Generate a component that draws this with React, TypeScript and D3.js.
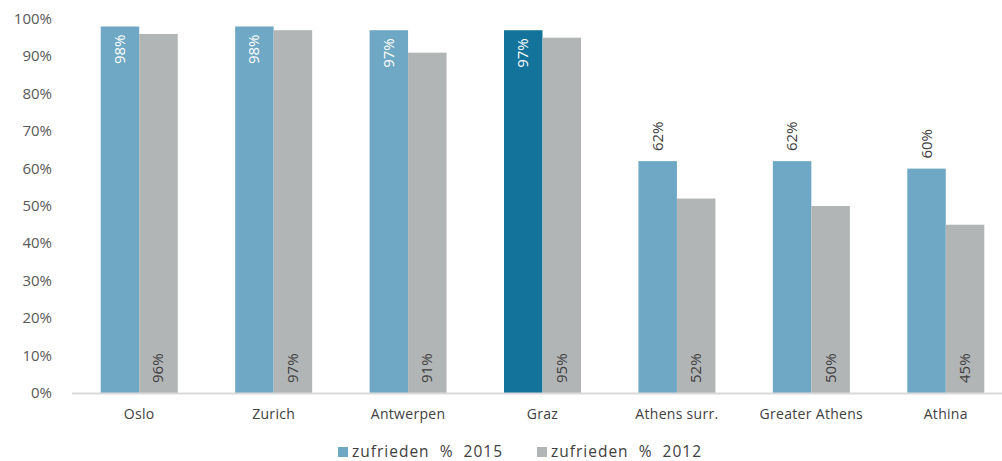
import * as d3 from "d3";

const categories = ["Oslo", "Zurich", "Antwerpen", "Graz", "Athens surr.", "Greater Athens", "Athina"];
const values2015 = [98, 98, 97, 97, 62, 62, 60];
const values2012 = [96, 97, 91, 95, 52, 50, 45];
const yTicks = [0, 10, 20, 30, 40, 50, 60, 70, 80, 90, 100];
const seriesNames = ["zufrieden  %  2015", "zufrieden  %  2012"];

const width = 1002;
const height = 461;
const font = "'Open Sans', 'Noto Sans', sans-serif";

export default function App() {
  const xScale = d3.scaleBand().domain(categories).range([72, 1013]).paddingInner(0).paddingOuter(0);
  const yScale = d3.scaleLinear().domain([0, 100]).range([393, 19]);
  const barW = 38.5;

  const allBars = categories.map((c, i) => {
    const cx = (xScale(c) || 0) + xScale.bandwidth() / 2;
    const v1 = values2015[i];
    const v2 = values2012[i];
    const inside = v1 > 80;
    const fill1 = c === "Graz" ? "#13739a" : "#6fa8c4";
    return (
      <g key={c}>
        <rect x={cx - barW} y={yScale(v1)} width={barW} height={yScale(0) - yScale(v1)} fill={fill1} />
        <rect x={cx} y={yScale(v2)} width={barW} height={yScale(0) - yScale(v2)} fill="#b2b5b6" />
        <text
          transform={`translate(${cx - barW / 2 + 5},${inside ? yScale(v1) + 8 : yScale(v1) - 10}) rotate(-90)`}
          textAnchor={inside ? "end" : "start"}
          fontSize={15}
          fill={inside ? "#ffffff" : "#404040"}
        >
          {v1}%
        </text>
        <text
          transform={`translate(${cx + barW / 2 + 5},${yScale(0) - 10}) rotate(-90)`}
          textAnchor="start"
          fontSize={15}
          fill="#404040"
        >
          {v2}%
        </text>
        <text x={cx} y={419} textAnchor="middle" fontSize={14} fill="#404040" letterSpacing={0.3}>
          {c}
        </text>
      </g>
    );
  });

  return (
    <svg width={width} height={height} style={{ position: "absolute", left: 0, top: 0, fontFamily: font }}>
      <rect width={width} height={height} fill="#ffffff" />
      {yTicks.map((t) => (
        <text key={t} x={52} y={yScale(t) + 5} textAnchor="end" fontSize={15} fill="#595959">
          {t}%
        </text>
      ))}
      {allBars}
      <line x1={72} x2={width} y1={yScale(0) + 0.5} y2={yScale(0) + 0.5} stroke="#d9d9d9" strokeWidth={2} />
      {seriesNames.map((s, i) => (
        <g key={s} transform={`translate(${i === 0 ? 338 : 537},447)`}>
          <rect x={0} y={0} width={10} height={10} fill={i === 0 ? "#6fa8c4" : "#b2b5b6"} />
          <text x={14} y={10} fontSize={15.5} fill="#404040" letterSpacing={1} style={{ whiteSpace: "pre" }}>
            {s}
          </text>
        </g>
      ))}
    </svg>
  );
}
